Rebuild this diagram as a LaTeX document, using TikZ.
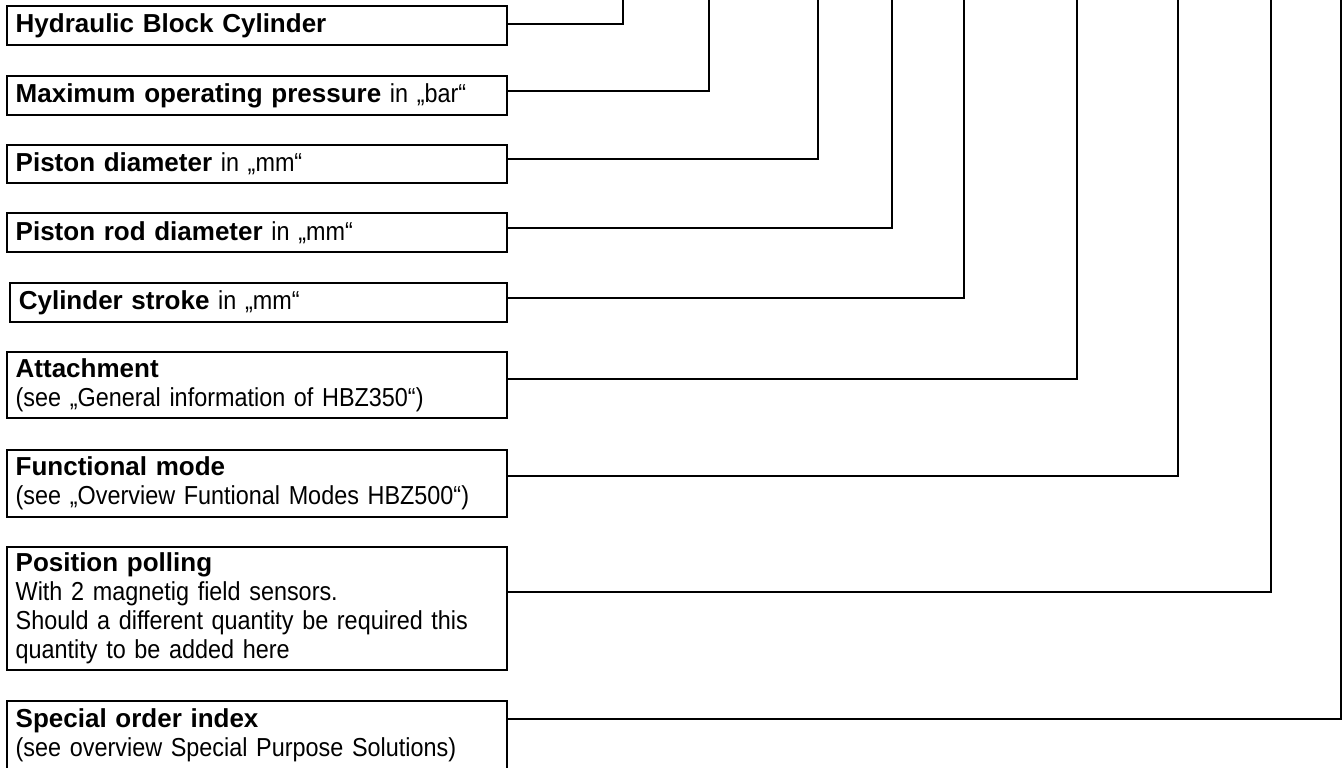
\documentclass[tikz,border=0pt]{standalone}
\usepackage{fontspec}
\setmainfont{Liberation Sans}
\newfontfamily\narrowfont{Liberation Sans}[FakeStretch=0.9]
\newcommand{\hd}[1]{{\normalfont\bfseries #1}}

\begin{document}
\begin{tikzpicture}[
  x=0.5pt, y=-0.5pt,
  box/.style={draw, line width=1pt, anchor=north west, outer sep=0pt,
              inner xsep=4.5pt, inner ysep=0pt, text width=241pt, align=left,
              font=\fontsize{13pt}{14.5pt}\selectfont\narrowfont},
  conn/.style={line width=1pt}
]
\useasboundingbox (0,0) rectangle (1344,767);
\clip (0,0) rectangle (1344,767);

% ── LABEL BOXES ───────────────────────────────────────────────────────────────
\node[box, minimum height=19.5pt] (b1) at (6.7,6)   {\hd{Hydraulic Block Cylinder}};
\node[box, minimum height=19.5pt] (b2) at (6.7,76)  {\hd{Maximum operating pressure} in „bar“};
\node[box, minimum height=19pt]   (b3) at (6.7,145) {\hd{Piston diameter} in „mm“};
\node[box, minimum height=19.5pt] (b4) at (6.7,213) {\hd{Piston rod diameter} in „mm“};
\node[box, minimum height=19.5pt, text width=239.5pt] (b5) at (9.8,283) {\hd{Cylinder stroke} in „mm“};
\node[box, minimum height=33pt]   (b6) at (6.7,352) {\hd{Attachment}\\(see „General information of HBZ350“)};
\node[box, minimum height=33.5pt] (b7) at (6.7,450) {\hd{Functional mode}\\(see „Overview Funtional Modes HBZ500“)};
\node[box, minimum height=61.5pt] (b8) at (6.7,547) {\hd{Position polling}\\With 2 magnetig field sensors.\\Should a different quantity be required this\\quantity to be added here};
\node[box, minimum height=34pt]   (b9) at (6.7,701) {\hd{Special order index}\\(see overview Special Purpose Solutions)};

% ── CONNECTORS (run off the top edge) ─────────────────────────────────────────
\coordinate (top1) at (623,-5);
\coordinate (top2) at (709,-5);
\coordinate (top3) at (818,-5);
\coordinate (top4) at (892,-5);
\coordinate (top5) at (964,-5);
\coordinate (top6) at (1077,-5);
\coordinate (top7) at (1178,-5);
\coordinate (top8) at (1271,-5);
\coordinate (top9) at (1341,-5);

\draw[conn] ([yshift=0.75pt]b1.east) -| (top1);
\draw[conn] ([yshift=2.25pt]b2.east) -| (top2);
\draw[conn] ([yshift=2.5pt]b3.east)  -| (top3);
\draw[conn] ([yshift=2.25pt]b4.east) -| (top4);
\draw[conn] ([yshift=2.25pt]b5.east) -| (top5);
\draw[conn] ([yshift=3pt]b6.east)    -| (top6);
\draw[conn] ([yshift=3.75pt]b7.east) -| (top7);
\draw[conn] ([yshift=8.25pt]b8.east) -| (top8);
\draw[conn] ([yshift=8pt]b9.east)    -| (top9);

\end{tikzpicture}
\end{document}
